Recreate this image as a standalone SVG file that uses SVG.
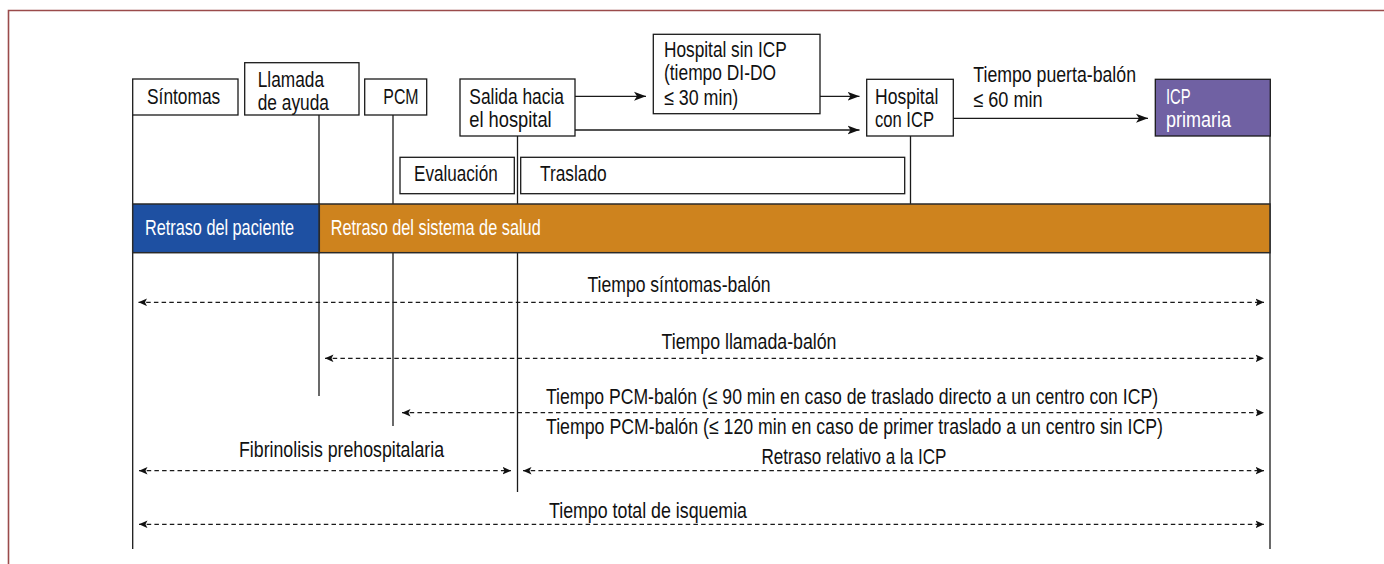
<svg xmlns="http://www.w3.org/2000/svg" width="1384" height="564" viewBox="0 0 1384 564">
<style>
.bg{fill:#ffffff}
.frame{fill:none;stroke:#9a4b4b;stroke-width:1.6}
.box{fill:#ffffff;stroke:#1a1a1a;stroke-width:1.3}
.vl{fill:none;stroke:#1a1a1a;stroke-width:1.3}
.sa{fill:none;stroke:#1a1a1a;stroke-width:1.3}
.da{fill:none;stroke:#1a1a1a;stroke-width:1.2;stroke-dasharray:4.5 3.2}
.t{font-family:"Liberation Sans",Arial,sans-serif;font-size:22px;fill:#111111}
.l{font-family:"Liberation Sans",Arial,sans-serif;font-size:21.5px;fill:#111111;text-anchor:middle}
.w{fill:#ffffff}
</style>
<defs>
<marker id="ah" markerUnits="userSpaceOnUse" markerWidth="14" markerHeight="12" refX="12" refY="5" orient="auto-start-reverse" viewBox="0 0 14 12">
<path d="M0,0.5 L12,5 L0,9.5 L3,5 Z" fill="#111111"/>
</marker>
<marker id="dh" markerUnits="userSpaceOnUse" markerWidth="10" markerHeight="10" refX="8.5" refY="4" orient="auto-start-reverse" viewBox="0 0 10 10">
<path d="M0,0.2 L8.5,4 L0,7.8 L2,4 Z" fill="#111111"/>
</marker>
</defs>
<rect class="bg" x="0" y="0" width="1384" height="564"/>
<path class="frame" d="M8.5,564 V10.5 H1384"/>

<g id="timelines">
<path class="vl" d="M132.7,115 V549"/>
<path class="vl" d="M319,115 V396"/>
<path class="vl" d="M393,115 V426"/>
<path class="vl" d="M517.5,136 V492"/>
<path class="vl" d="M910.5,136 V204"/>
<path class="vl" d="M1270,136 V549" style="stroke:#444;stroke-width:1.6"/>
</g>

<g id="bars">
<rect x="132.7" y="204" width="186.6" height="48.7" fill="#1e50a2" stroke="#2a2a2a" stroke-width="1.5"/>
<rect x="319.3" y="204" width="950.7" height="48.7" fill="#ce831e" stroke="#2a2a2a" stroke-width="1.5"/>
<text class="t w" x="145" y="235" textLength="149" lengthAdjust="spacingAndGlyphs">Retraso del paciente</text>
<text class="t w" x="330.7" y="235" textLength="210" lengthAdjust="spacingAndGlyphs">Retraso del sistema de salud</text>
</g>

<g id="sintomas">
<rect class="box" x="132.7" y="79" width="105.3" height="36"/>
<text class="t" x="147" y="104" textLength="73.3" lengthAdjust="spacingAndGlyphs">Síntomas</text>
</g>
<g id="llamada">
<rect class="box" x="244.7" y="62.7" width="114.3" height="52.3"/>
<text class="t" x="257.7" y="86.7" textLength="66.3" lengthAdjust="spacingAndGlyphs">Llamada</text>
<text class="t" x="257.7" y="110" textLength="71.3" lengthAdjust="spacingAndGlyphs">de ayuda</text>
</g>
<g id="pcm">
<rect class="box" x="364.7" y="79" width="62" height="36"/>
<text class="t" x="383.3" y="104" textLength="35.3" lengthAdjust="spacingAndGlyphs">PCM</text>
</g>
<g id="salida">
<rect class="box" x="460" y="79" width="115" height="57"/>
<text class="t" x="469.3" y="104" textLength="94.7" lengthAdjust="spacingAndGlyphs">Salida hacia</text>
<text class="t" x="469.3" y="126.7" textLength="82.4" lengthAdjust="spacingAndGlyphs">el hospital</text>
</g>
<g id="hospital-sin-icp">
<rect class="box" x="653.3" y="34.3" width="166.7" height="79.4"/>
<text class="t" x="664" y="56.7" textLength="122.7" lengthAdjust="spacingAndGlyphs">Hospital sin ICP</text>
<text class="t" x="664" y="80" textLength="112" lengthAdjust="spacingAndGlyphs">(tiempo DI-DO</text>
<text class="t" x="664" y="105" textLength="74.3" lengthAdjust="spacingAndGlyphs">≤ 30 min)</text>
</g>
<g id="hospital-con-icp">
<rect class="box" x="866.7" y="79.3" width="86.6" height="56.7"/>
<text class="t" x="875" y="104" textLength="63.3" lengthAdjust="spacingAndGlyphs">Hospital</text>
<text class="t" x="875" y="126.7" textLength="59" lengthAdjust="spacingAndGlyphs">con ICP</text>
</g>
<g id="icp-primaria">
<rect x="1155.3" y="79.3" width="115" height="56.7" fill="#7061a3" stroke="#1a1a1a" stroke-width="1.3"/>
<text class="t w" x="1166" y="104" textLength="24.7" lengthAdjust="spacingAndGlyphs">ICP</text>
<text class="t w" x="1166" y="126.7" textLength="65" lengthAdjust="spacingAndGlyphs">primaria</text>
</g>
<g id="evaluacion">
<rect class="box" x="400" y="157.3" width="114.3" height="36.4"/>
<text class="t" x="414" y="181" textLength="83.7" lengthAdjust="spacingAndGlyphs">Evaluación</text>
</g>
<g id="traslado">
<rect class="box" x="520.7" y="157.3" width="384" height="36.4"/>
<text class="t" x="540" y="181" textLength="66.7" lengthAdjust="spacingAndGlyphs">Traslado</text>
</g>

<g id="connectors">
<path class="sa" d="M575,96.3 H646" marker-end="url(#ah)"/>
<path class="sa" d="M820,96.3 H859.5" marker-end="url(#ah)"/>
<path class="sa" d="M575,130 H859.5" marker-end="url(#ah)"/>
<path class="sa" d="M953.3,118.3 H1148" marker-end="url(#ah)"/>
<text class="t" x="973.3" y="82.3" textLength="162.7" lengthAdjust="spacingAndGlyphs">Tiempo puerta-balón</text>
<text class="t" x="973.3" y="106.7" textLength="69.3" lengthAdjust="spacingAndGlyphs">≤ 60 min</text>

<path class="da" d="M138.5,302.3 H1264" marker-start="url(#dh)" marker-end="url(#dh)"/>
<text class="l" x="679" y="291.5" textLength="183" lengthAdjust="spacingAndGlyphs">Tiempo síntomas-balón</text>

<path class="da" d="M325,358.3 H1264" marker-start="url(#dh)" marker-end="url(#dh)"/>
<text class="l" x="749" y="348.5" textLength="175" lengthAdjust="spacingAndGlyphs">Tiempo llamada-balón</text>

<path class="da" d="M402,412.7 H1264" marker-start="url(#dh)" marker-end="url(#dh)"/>
<text class="l" x="852" y="403.5" textLength="612" lengthAdjust="spacingAndGlyphs">Tiempo PCM-balón (≤ 90 min en caso de traslado directo a un centro con ICP)</text>
<text class="l" x="854.5" y="434" textLength="617" lengthAdjust="spacingAndGlyphs">Tiempo PCM-balón (≤ 120 min en caso de primer traslado a un centro sin ICP)</text>

<path class="da" d="M139,470.7 H511" marker-start="url(#dh)" marker-end="url(#dh)"/>
<text class="l" x="341.5" y="456.5" textLength="205" lengthAdjust="spacingAndGlyphs">Fibrinolisis prehospitalaria</text>

<path class="da" d="M523,470.7 H1264" marker-start="url(#dh)" marker-end="url(#dh)"/>
<text class="l" x="854" y="463.5" textLength="185" lengthAdjust="spacingAndGlyphs">Retraso relativo a la ICP</text>

<path class="da" d="M139,524.3 H1264" marker-start="url(#dh)" marker-end="url(#dh)"/>
<text class="l" x="648" y="517.5" textLength="198" lengthAdjust="spacingAndGlyphs">Tiempo total de isquemia</text>
</g>
</svg>
